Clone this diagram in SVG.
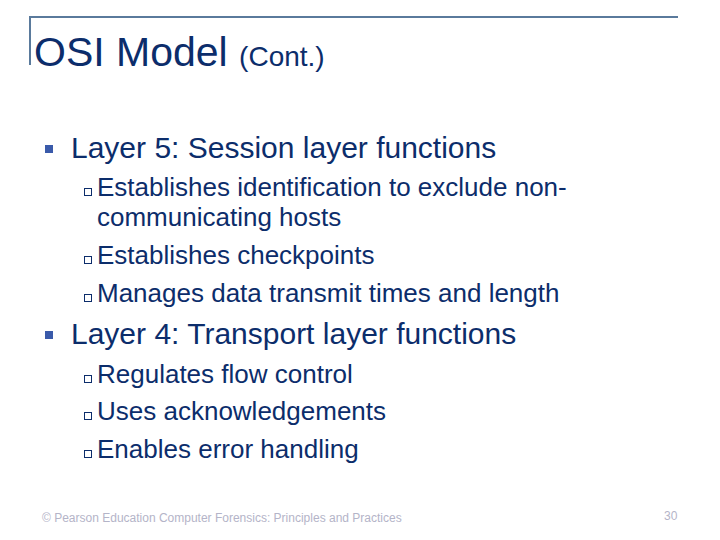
<svg xmlns="http://www.w3.org/2000/svg" width="720" height="540" viewBox="0 0 720 540">
<style>
.t{font-family:"Liberation Sans",Arial,sans-serif;fill:#0c2d6b}
.l1{font-size:30px}
.l2{font-size:26px}
.ft{font-family:"Liberation Sans",Arial,sans-serif;font-size:12px;fill:#b4b4c8}
.sq{fill:#3a5aaa}
.hs{fill:none;stroke:#0c2d6b;stroke-width:1}
</style>
<rect width="720" height="540" fill="#fff"/>
<path d="M30 65V17H678" fill="none" stroke="#5a7a9c" stroke-width="2"/>
<text class="t" x="34" y="66" font-size="41">OSI Model <tspan font-size="28">(Cont.)</tspan></text>
<rect class="sq" x="45" y="145" width="8" height="8"/>
<text class="t l1" x="71" y="158">Layer 5: Session layer functions</text>
<rect class="hs" x="84.5" y="188.5" width="7" height="7"/>
<text class="t l2" x="97" y="196">Establishes identification to exclude non-</text>
<text class="t l2" x="97" y="226">communicating hosts</text>
<rect class="hs" x="84.5" y="256.5" width="7" height="7"/>
<text class="t l2" x="97" y="264">Establishes checkpoints</text>
<rect class="hs" x="84.5" y="294.5" width="7" height="7"/>
<text class="t l2" x="97" y="302">Manages data transmit times and length</text>
<rect class="sq" x="45" y="331" width="8" height="8"/>
<text class="t l1" x="71" y="344">Layer 4: Transport layer functions</text>
<rect class="hs" x="84.5" y="375.5" width="7" height="7"/>
<text class="t l2" x="97" y="383">Regulates flow control</text>
<rect class="hs" x="84.5" y="412.5" width="7" height="7"/>
<text class="t l2" x="97" y="420">Uses acknowledgements</text>
<rect class="hs" x="84.5" y="450.5" width="7" height="7"/>
<text class="t l2" x="97" y="458">Enables error handling</text>
<text class="ft" x="42" y="522">© Pearson Education  Computer Forensics: Principles and Practices</text>
<text class="ft" x="664" y="520">30</text>
</svg>
